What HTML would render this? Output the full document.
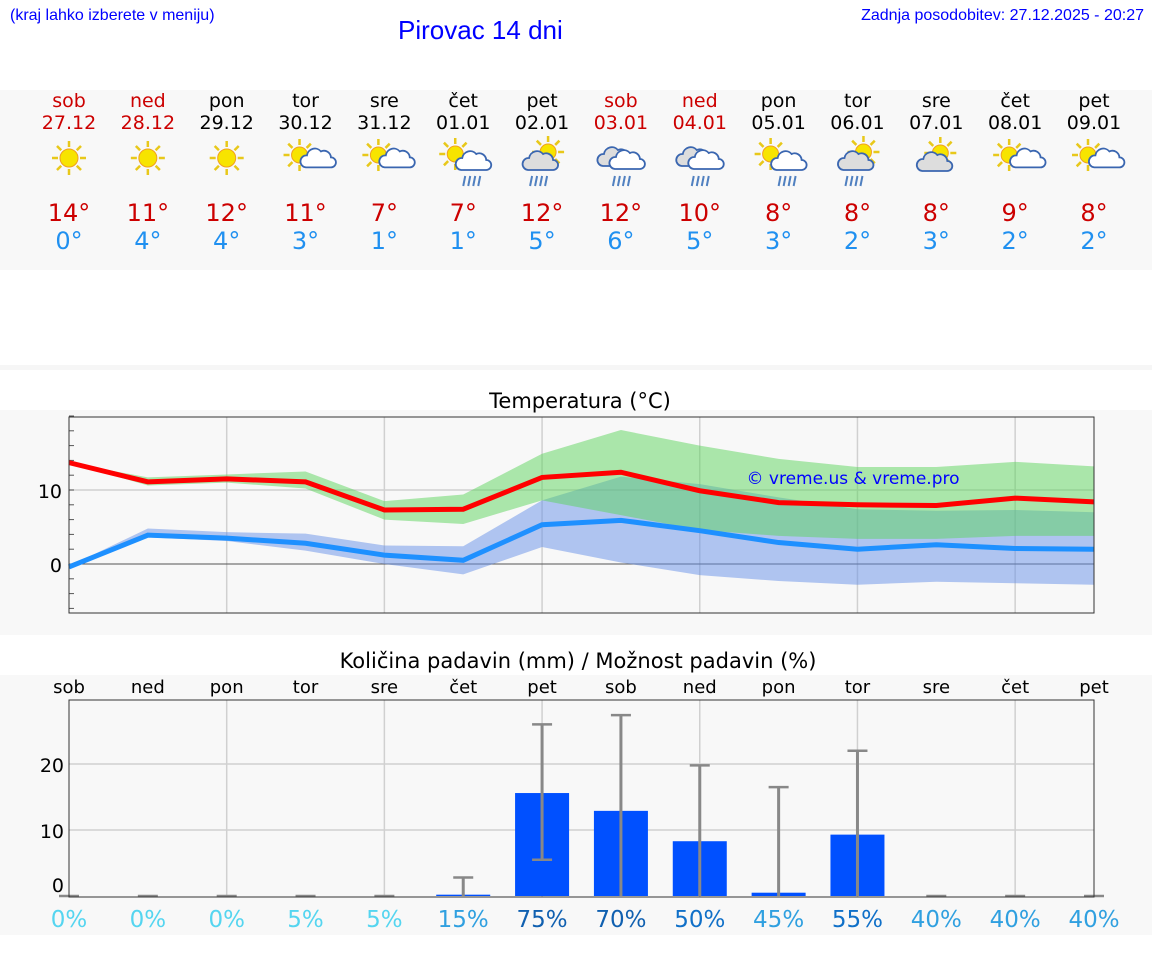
<!DOCTYPE html>
<html><head><meta charset="utf-8"><style>
body{margin:0;width:1152px;height:975px;background:#fff;font-family:"DejaVu Sans","Liberation Sans",sans-serif;position:relative;overflow:hidden}
.a{position:absolute}
</style></head><body>
<div class="a" style="left:10px;top:7px;font-size:16px;color:#00f;font-family:'Liberation Sans',sans-serif">(kraj lahko izberete v meniju)</div>
<div class="a" style="left:398px;top:15px;font-size:26px;color:#00f;font-family:'Liberation Sans',sans-serif">Pirovac 14 dni</div>
<div class="a" style="right:8px;top:7px;font-size:16px;color:#00f;font-family:'Liberation Sans',sans-serif">Zadnja posodobitev: 27.12.2025 - 20:27</div>
<div class="a" style="left:0;top:90px;width:1152px;height:180px;background:#f8f8f8"></div>
<div class="a" style="left:0;top:365px;width:1152px;height:5px;background:#f6f6f6"></div>
<div class="a" style="left:0;top:410px;width:1152px;height:225px;background:#f8f8f8"></div>
<div class="a" style="left:0;top:675px;width:1152px;height:260px;background:#f8f8f8"></div>
<svg class="a" style="left:0;top:0" width="1152" height="975" id="svg"></svg>
<script>
const dayNames=["sob","ned","pon","tor","sre","čet","pet","sob","ned","pon","tor","sre","čet","pet"];
const dates=["27.12","28.12","29.12","30.12","31.12","01.01","02.01","03.01","04.01","05.01","06.01","07.01","08.01","09.01"];
const icons=["s","s","s","sc","sc","scr","csr","cr","cr","scr","csr","cs","sc","sc"];
const tMax=[13.7,11.1,11.5,11.1,7.3,7.4,11.7,12.4,9.9,8.3,8.0,7.9,8.9,8.4];
const tMin=[-0.4,3.9,3.5,2.8,1.2,0.5,5.3,5.9,4.5,2.9,2.0,2.6,2.1,2.0];
const maxHi=[13.7,11.7,12.1,12.5,8.5,9.4,14.9,18.1,16.0,14.2,13.1,13.1,13.8,13.2];
const maxLo=[13.7,10.6,11.0,10.2,6.0,5.4,8.6,6.6,4.6,3.8,3.4,3.4,3.8,3.8];
const minHi=[-0.3,4.8,4.3,4.1,2.5,2.4,8.6,11.8,10.8,9.0,7.4,7.2,7.3,7.0];
const minLo=[-0.5,3.6,3.1,1.8,0.0,-1.4,2.3,0.2,-1.5,-2.3,-2.8,-2.4,-2.6,-2.8];
const precip=[0,0,0,0,0,0.2,15.6,12.9,8.3,0.5,9.3,0,0,0];
const errHi=[0,0,0,0,0,2.8,26,27.4,19.8,16.5,22,0,0,0];
const errLo=[0,0,0,0,0,0,5.5,0,0,0,0,0,0,0];
const prob=[0,0,0,5,5,15,75,70,50,45,55,40,40,40];
const tTicks=[0,10];const pTicks=[0,10,20];
const NS="http://www.w3.org/2000/svg",svg=document.getElementById('svg');
const X=i=>69+i*(1094-69)/13;
const TY=v=>564-v*7.4, PY=v=>896-v*6.6;
function el(t,a,p){const e=document.createElementNS(NS,t);for(const k in a)e.setAttribute(k,a[k]);(p||svg).appendChild(e);return e}
function txt(x,y,s,size,fill,anchor,name){const e=el('text',{x:x,y:y,'font-size':size,fill:fill,'text-anchor':anchor||'middle','font-family':'DejaVu Sans,sans-serif'});e.textContent=s;

return e}
function icon(cx,cy,k){const g=el('g',{});
 
 
 const sun=(x,y,r)=>{for(let a=0;a<8;a++){const t=a*Math.PI/4;el('line',{x1:x+Math.cos(t)*(r+2),y1:y+Math.sin(t)*(r+2),x2:x+Math.cos(t)*(r+8),y2:y+Math.sin(t)*(r+8),stroke:'#e8c81a','stroke-width':2.5},g)}el('circle',{cx:x,cy:y,r:r,fill:'#f7e400',stroke:'#f0a020','stroke-width':1},g)};
 const cloud=(x,y,s,f)=>{el('path',{d:`M${x-12*s},${y+8*s} a6,6 0 0 1 1,-12 a8,8 0 0 1 14,-4 a7,7 0 0 1 10,6 a5,5 0 0 1 0,10 z`,fill:f,stroke:'#3a66b0','stroke-width':1.8},g)};
 const rain=(x,y)=>{for(let j=0;j<4;j++)el('line',{x1:x-8+j*5,y1:y,x2:x-10+j*5,y2:y+10,stroke:'#5080c0','stroke-width':2},g)};
 if(k=='s')sun(cx,cy,9);
 if(k=='sc'){sun(cx-6,cy-3,8);cloud(cx+10,cy+3,0.8,'#fff')}
 if(k=='cs'){sun(cx+4,cy-5,8);cloud(cx-2,cy+5,1,'#ddd')}
 if(k=='scr'){sun(cx-8,cy-4,8);cloud(cx+10,cy+4,1,'#fff');rain(cx+10,cy+18)}
 if(k=='csr'){sun(cx+6,cy-6,8);cloud(cx-2,cy+4,1,'#ddd');rain(cx-2,cy+18)}
 if(k=='cr'){cloud(cx-6,cy,1,'#ddd');cloud(cx+6,cy+3,1,'#fff');rain(cx+2,cy+18)}
}
const days=dayNames.length;
for(let i=0;i<days;i++){const x=X(i);const we=(dayNames[i]=='sob'||dayNames[i]=='ned');const c=we?'#c00':'#000';
 txt(x,107,dayNames[i],19,c,'middle','day-name');txt(x,129,dates[i],19,c,'middle','day-date');
 icon(x,158,icons[i]);
 txt(x,221,Math.round(tMax[i])+'°',24,'#c00','middle','max-temp');txt(x,249,Math.round(tMin[i])+'°',24,'#2090f0','middle','min-temp');}
txt(580,408,'Temperatura (°C)',21,'#000','middle','temp-chart-title');
el('rect',{x:69,y:417,width:1025,height:196,fill:'#f8f8f8'});
for(let i=2;i<days;i+=2)el('line',{x1:X(i),y1:417,x2:X(i),y2:613,stroke:'#d0d0d0','stroke-width':1.5});
tTicks.forEach(v=>{el('line',{x1:69,y1:TY(v),x2:1094,y2:TY(v),stroke:v==0?'#555':'#d0d0d0','stroke-width':v==0?1:1.5});txt(62,TY(v)+8,v,19,'#000','end','y-tick-label')});
for(let v=-6;v<=20;v+=2)el('line',{x1:69,y1:TY(v),x2:74,y2:TY(v),stroke:'#555'});
function band(hi,lo,f,name){let d='';hi.forEach((v,i)=>d+=(i?'L':'M')+X(i)+','+TY(v));for(let i=lo.length-1;i>=0;i--)d+='L'+X(i)+','+TY(lo[i]);const p=el('path',{d:d+'Z',fill:f,'fill-opacity':0.5});

}
band(minHi,minLo,'#6690e8','min-temp-range');band(maxHi,maxLo,'#5cd45c','max-temp-range');
function line(a,c,name){const p=el('polyline',{points:a.map((v,i)=>X(i)+','+TY(v)).join(' '),fill:'none',stroke:c,'stroke-width':5});

}
line(tMax,'#f00','max-temp-line');line(tMin,'#1e90ff','min-temp-line');
el('rect',{x:69,y:417,width:1025,height:196,fill:'none',stroke:'#333','stroke-width':1});
txt(853,484,'© vreme.us & vreme.pro',17,'#00f','middle','watermark');
txt(578,668,'Količina padavin (mm) / Možnost padavin (%)',21,'#000','middle','precip-chart-title');
for(let i=0;i<days;i++)txt(X(i),693,dayNames[i],18,'#000','middle','precip-day-name');
el('rect',{x:69,y:700,width:1025,height:197,fill:'#f8f8f8'});
for(let i=2;i<days;i+=2)el('line',{x1:X(i),y1:700,x2:X(i),y2:897,stroke:'#d0d0d0','stroke-width':1.5});
pTicks.forEach(v=>{if(v)el('line',{x1:69,y1:PY(v),x2:1094,y2:PY(v),stroke:'#d0d0d0','stroke-width':1.5});txt(64,PY(v)+(v?8:-4),v,19,'#000','end','y-tick-label')});
for(let i=0;i<days;i++){const x=X(i);
 if(precip[i]>0){const r=el('rect',{x:x-27,y:PY(precip[i]),width:54,height:PY(0)-PY(precip[i]),fill:'#0050ff'});
 
 }
 el('line',{x1:x,y1:PY(errLo[i]),x2:x,y2:PY(errHi[i]),stroke:'#888','stroke-width':3});
 el('line',{x1:x-10,y1:PY(errHi[i]),x2:x+10,y2:PY(errHi[i]),stroke:'#888','stroke-width':2.5});
 if(errLo[i]>0)el('line',{x1:x-10,y1:PY(errLo[i]),x2:x+10,y2:PY(errLo[i]),stroke:'#888','stroke-width':2.5});
 const p=prob[i];const c=p<10?'#55d5f0':p<=45?'#30a0e0':p<=55?'#1070c8':'#1060b0';
 txt(x,927,p+'%',23,c,'middle','precip-probability');}
el('rect',{x:69,y:700,width:1025,height:197,fill:'none',stroke:'#333','stroke-width':1});
</script>
</body></html>
